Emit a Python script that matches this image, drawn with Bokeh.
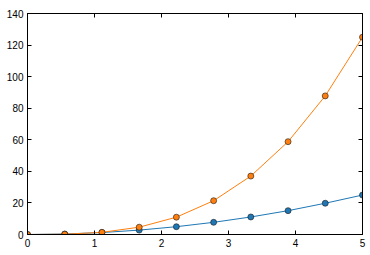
from bokeh.plotting import figure
from bokeh.models import LinearAxis, Range1d, FixedTicker, CustomJSTickFormatter
from bokeh.embed import file_html
from bokeh.resources import INLINE

x = [0.0, 0.556, 1.111, 1.667, 2.222, 2.778, 3.333, 3.889, 4.444, 5.0]
blue = [0.0, 0.31, 1.23, 2.78, 4.94, 7.72, 11.1, 15.1, 19.8, 25.0]
orange = [0.0, 0.17, 1.37, 4.63, 10.97, 21.4, 37.0, 58.8, 87.8, 125.0]
x_ticks = [0, 1, 2, 3, 4, 5]
y_ticks = [0, 20, 40, 60, 80, 100, 120, 140]

p = figure(width=370, height=255, output_backend="svg", toolbar_location=None,
           x_range=Range1d(0, 5), y_range=Range1d(0, 140),
           min_border_left=27, min_border_right=8, min_border_top=13, min_border_bottom=21)
p.grid.visible = False
p.outline_line_color = "black"
p.outline_line_width = 1
p.background_fill_color = "white"
p.border_fill_color = "white"

font = "Liberation Sans"

def style(ax, ticks, labels=True):
    ax.ticker = FixedTicker(ticks=ticks)
    ax.major_tick_in = 4
    ax.major_tick_out = 0
    ax.minor_tick_in = 0
    ax.minor_tick_out = 0
    ax.axis_line_color = "black"
    ax.major_tick_line_color = "black"
    ax.major_label_text_font = font
    ax.major_label_text_font_size = "10px"
    ax.major_label_text_color = "black"
    ax.major_label_standoff = 4
    if not labels:
        ax.formatter = CustomJSTickFormatter(code="return '';")
        ax.major_label_standoff = 0

style(p.xaxis[0], x_ticks)
style(p.yaxis[0], y_ticks)
ax_top = LinearAxis()
style(ax_top, x_ticks, labels=False)
p.add_layout(ax_top, "above")
ax_right = LinearAxis()
style(ax_right, y_ticks, labels=False)
p.add_layout(ax_right, "right")

p.line(x, blue, line_color="#1f77b4", line_width=1)
p.scatter(x, blue, size=6, fill_color="#1f77b4", line_color="#1a1a1a", line_width=0.6)
p.line(x, orange, line_color="#ff7f0e", line_width=1)
p.scatter(x, orange, size=6, fill_color="#ff7f0e", line_color="#1a1a1a", line_width=0.6)

open("out.html", "w").write(file_html(p, INLINE))
